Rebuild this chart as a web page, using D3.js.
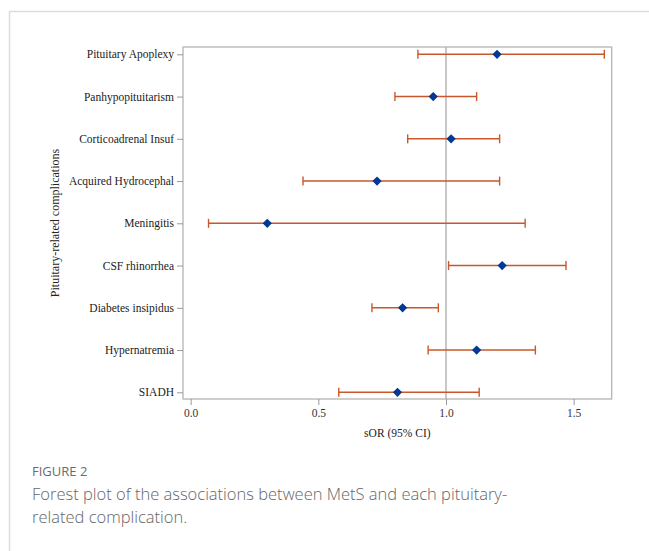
<!DOCTYPE html>
<html>
<head>
<meta charset="utf-8">
<script src="https://cdn.jsdelivr.net/npm/d3@7"></script>
<style>
  body { margin: 0; background: #fff; }
  svg { display: block; }
</style>
</head>
<body>
<div id="chart"></div>
<script>
// data
var complications = ["Pituitary Apoplexy", "Panhypopituitarism", "Corticoadrenal Insuf", "Acquired Hydrocephal",
  "Meningitis", "CSF rhinorrhea", "Diabetes insipidus", "Hypernatremia", "SIADH"];
var estimates = [1.20, 0.95, 1.02, 0.73, 0.30, 1.22, 0.83, 1.12, 0.81];
var lowerCI  = [0.89, 0.80, 0.85, 0.44, 0.07, 1.01, 0.71, 0.93, 0.58];
var upperCI  = [1.62, 1.12, 1.21, 1.21, 1.31, 1.47, 0.97, 1.35, 1.13];
var xTicks = [0, 0.5, 1.0, 1.5];

var data = complications.map(function(c, i) {
  return {name: c, est: estimates[i], lo: lowerCI[i], hi: upperCI[i]};
});

var W = 649, H = 551;
var plot = {left: 183, top: 47, right: 611.7, bottom: 399};

var svg = d3.select("#chart").append("svg")
  .attr("width", W).attr("height", H);

// card outline
svg.append("rect")
  .attr("x", 9.5).attr("y", 11.5)
  .attr("width", W + 20).attr("height", H + 20)
  .attr("fill", "none").attr("stroke", "#dcdcdc").attr("stroke-width", 1.5);

var x = d3.scaleLinear().domain([-0.03, 1.649]).range([plot.left, plot.right]);
var y = d3.scalePoint().domain(complications).range([54.3, 392.3]);

var serif = "'Liberation Serif', 'Times New Roman', serif";

// reference line at 1
svg.append("line")
  .attr("x1", x(1)).attr("x2", x(1))
  .attr("y1", plot.top).attr("y2", plot.bottom)
  .attr("stroke", "#c8c8c8").attr("stroke-width", 2);

// frame
svg.append("rect")
  .attr("x", plot.left).attr("y", plot.top)
  .attr("width", plot.right - plot.left).attr("height", plot.bottom - plot.top)
  .attr("fill", "none").attr("stroke", "#b4b4b4").attr("stroke-width", 1.3);

// x axis
var xAxis = svg.append("g")
  .attr("transform", "translate(0," + plot.bottom + ")")
  .call(d3.axisBottom(x).tickValues(xTicks).tickFormat(d3.format(".1f")).tickSize(6).tickSizeOuter(0).tickPadding(4));
xAxis.select(".domain").remove();
xAxis.selectAll(".tick line").attr("stroke", "#999");
xAxis.selectAll("text").attr("font-family", serif).attr("font-size", 11.5).attr("fill", "#333");

// y axis
var yAxis = svg.append("g")
  .attr("transform", "translate(" + plot.left + ",0)")
  .call(d3.axisLeft(y).tickSize(6).tickSizeOuter(0).tickPadding(3));
yAxis.select(".domain").remove();
yAxis.selectAll(".tick line").attr("stroke", "#999");
yAxis.selectAll("text").attr("font-family", serif).attr("font-size", 11.5).attr("fill", "#222");

// axis labels
svg.append("text")
  .attr("x", (plot.left + plot.right) / 2).attr("y", 437)
  .attr("text-anchor", "middle")
  .attr("font-family", serif).attr("font-size", 11.5).attr("fill", "#222")
  .text("sOR (95% CI)");

svg.append("text")
  .attr("transform", "translate(59," + (plot.top + plot.bottom) / 2 + ") rotate(-90)")
  .attr("text-anchor", "middle")
  .attr("font-family", serif).attr("font-size", 12).attr("fill", "#222")
  .text("Pituitary-related complications");

// error bars
var barColor = "#c8582c";
var rows = svg.append("g").selectAll("g")
  .data(data).enter().append("g");

rows.append("line")
  .attr("x1", function(d) { return x(d.lo); })
  .attr("x2", function(d) { return x(d.hi); })
  .attr("y1", function(d) { return y(d.name); })
  .attr("y2", function(d) { return y(d.name); })
  .attr("stroke", barColor).attr("stroke-width", 1.4);

rows.selectAll(".cap")
  .data(function(d) { return [{v: d.lo, n: d.name}, {v: d.hi, n: d.name}]; })
  .enter().append("line")
  .attr("class", "cap")
  .attr("x1", function(d) { return x(d.v); })
  .attr("x2", function(d) { return x(d.v); })
  .attr("y1", function(d) { return y(d.n) - 4.5; })
  .attr("y2", function(d) { return y(d.n) + 4.5; })
  .attr("stroke", barColor).attr("stroke-width", 1.4);

rows.append("path")
  .attr("d", d3.symbol().type(d3.symbolDiamond2).size(55))
  .attr("transform", function(d) { return "translate(" + x(d.est) + "," + y(d.name) + ")"; })
  .attr("fill", "#003a96");

// caption
var sans = "'Open Sans', Lato, sans-serif";
svg.append("text")
  .attr("x", 32).attr("y", 476)
  .attr("font-family", sans).attr("font-size", 13).attr("font-weight", 400).attr("fill", "#6b6b6b")
  .text("FIGURE 2");

var caption = ["Forest plot of the associations between MetS and each pituitary-", "related complication."];
svg.append("g").selectAll("text")
  .data(caption).enter().append("text")
  .attr("x", 32)
  .attr("y", function(d, i) { return 500 + i * 23; })
  .attr("font-family", sans).attr("font-size", 16.5).attr("font-weight", 300).attr("fill", "#666")
  .text(function(d) { return d; });
</script>
</body>
</html>
